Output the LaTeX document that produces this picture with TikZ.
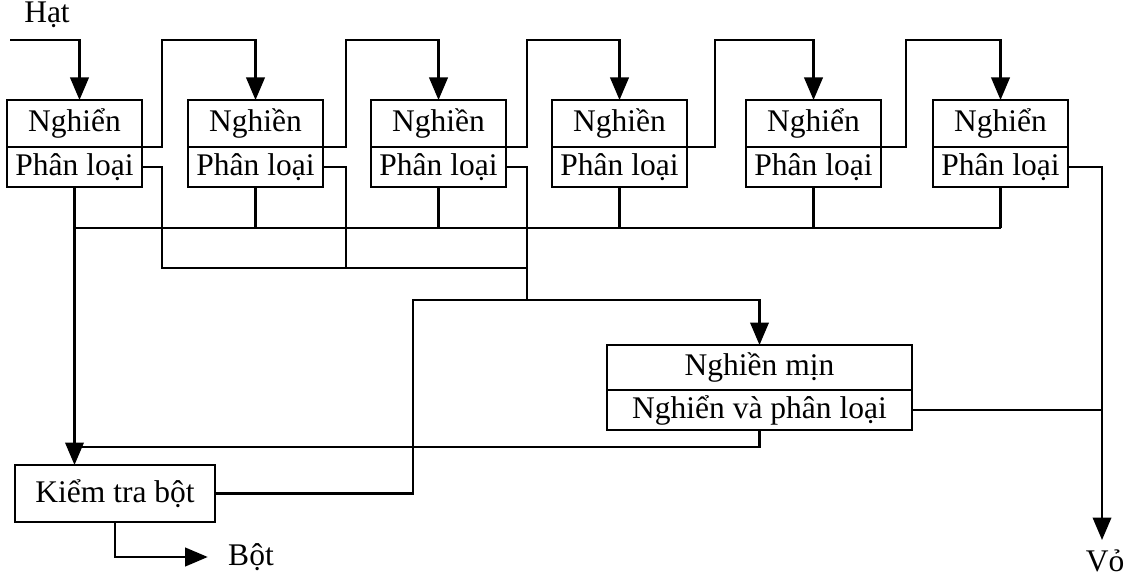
\documentclass[tikz,border=0pt]{standalone}
\usepackage{fontspec}
\setmainfont{Liberation Serif}
\usetikzlibrary{positioning,arrows.meta,calc}
\tikzset{
  millup/.style={rectangle, draw, line width=0.9pt, outer sep=0pt, inner sep=1pt,
                 minimum width=54pt, minimum height=18.8pt, anchor=north west},
  millow/.style={rectangle, draw, line width=0.9pt, outer sep=0pt, inner sep=1pt,
                 minimum width=54pt, minimum height=16pt},
  chk/.style={rectangle, draw, line width=0.9pt, outer sep=0pt,
              minimum width=80pt, minimum height=22.8pt, anchor=north west},
  lbl/.style={inner sep=0pt},
  line/.style={draw, line width=0.9pt},
  flow/.style={-{Triangle[length=9pt,width=7.4pt]}, draw, line width=0.9pt},
}
\newcommand{\MillBox}[3][]{%
  \node[millup,#1] (#2) {#3};
  \node[millow,below=0pt of #2] (#2p) {Phân loại};}

\begin{document}
\begin{tikzpicture}[x=0.4pt,y=0.4pt,font=\fontsize{12.6}{14}\selectfont]
  \useasboundingbox (0,0) rectangle (1126,581);

  %====================== MILL ROW ======================
  \MillBox[at={(7,481)}]{m1}{Nghiển}
  \MillBox[right=18.4pt of m1.north east,anchor=north west]{m2}{Nghiền}
  \MillBox[right=19.2pt of m2.north east,anchor=north west]{m3}{Nghiền}
  \MillBox[right=18.4pt of m3.north east,anchor=north west]{m4}{Nghiền}
  \MillBox[right=23.6pt of m4.north east,anchor=north west]{m5}{Nghiển}
  \MillBox[right=20.8pt of m5.north east,anchor=north west]{m6}{Nghiển}

  %====================== FINE MILL, CHECK ======================
  \node[millup,minimum width=122pt,minimum height=18pt] (fine) at (607,236) {Nghiền mịn};
  \node[millow,minimum width=122pt,below=0pt of fine] (finep) {Nghiển và phân loại};
  \node[chk] (kt) at (15,116) {Kiểm tra bột};

  \node[lbl] (hat) at (47,566) {Hạt};
  \node[lbl] (bot) at (251,24) {Bột};
  \node[lbl] (vo) at (1105,20) {Vỏ};

  % bus levels
  \coordinate (hatin) at (10,541);
  \coordinate (coarse) at (0,353);
  \coordinate (fineb) at (0,313);
  \coordinate (feed) at (0,281);
  \coordinate (ret) at (0,134);
  \coordinate (back) at (413,0);
  \coordinate (voend) at (0,41);

  %====================== CONNECTORS ======================
  \draw[flow] (hatin) -| ([xshift=2pt]m1.north);
  \draw[flow] (m1.south east) -- ++(20,0) |- ($(m2.north)+(0,60)$) -- (m2.north);
  \draw[flow] (m2.south east) -- ++(23,0) |- ($(m3.north)+(0,60)$) -- (m3.north);
  \draw[flow] (m3.south east) -- ++(21,0) |- ($(m4.north)+(0,60)$) -- (m4.north);
  \draw[flow] (m4.south east) -- ++(28,0) |- ($(m5.north)+(0,60)$) -- (m5.north);
  \draw[flow] (m5.south east) -- ++(25,0) |- ($(m6.north)+(0,60)$) -- (m6.north);

  % sifted side streams
  \draw[line] (m3p.east) -- ++(21,0) coordinate (r3) -- (r3 |- feed);
  \draw[line] (m1p.east) -- ++(20,0) coordinate (r1) -- (r1 |- fineb) -- (r3 |- fineb);
  \draw[line] (m2p.east) -- ++(23,0) coordinate (r2) -- (r2 |- fineb);

  % bottom outputs
  \draw[line] (m1p.south |- coarse) -- (m6p.south |- coarse);
  \draw[line] (m2p.south) -- (m2p.south |- coarse);
  \draw[line] (m3p.south) -- (m3p.south |- coarse);
  \draw[line] (m4p.south) -- (m4p.south |- coarse);
  \draw[line] (m5p.south) -- (m5p.south |- coarse);
  \draw[line] (m6p.south) -- (m6p.south |- coarse);
  \draw[flow] (m1p.south) -- (m1p.south |- kt.north);

  % return to fine mill
  \draw[flow] (kt.east) -| (back |- feed) -| (fine.north);
  \draw[line] (finep.south) |- (m1p.south |- ret);

  % husks and flour
  \draw[flow] (m6p.east) -- ++(34,0) coordinate (r6) -- (r6 |- voend);
  \draw[line] (finep.east) -- (r6 |- finep.east);
  \draw[flow] (kt.south) |- ([xshift=-8pt]bot.west);

\end{tikzpicture}
\end{document}
